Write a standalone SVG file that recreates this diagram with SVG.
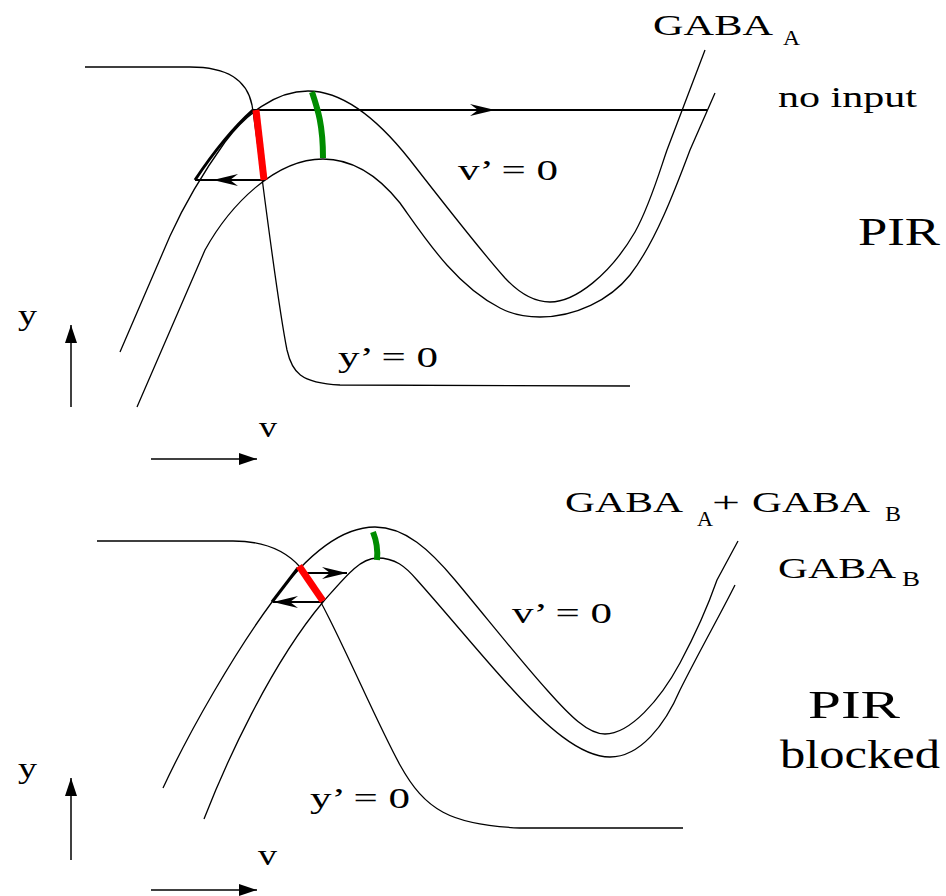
<svg xmlns="http://www.w3.org/2000/svg" width="946" height="896" viewBox="0 0 946 896">
<defs>
<marker id="barb" viewBox="-27 -8 29 16" refX="0" refY="0" markerWidth="29" markerHeight="16" markerUnits="userSpaceOnUse" orient="auto">
<path d="M0,0 L-25,-6 L-17,0 L-25,6 Z" fill="#000"/>
</marker>
<marker id="tri" viewBox="-20 -8 21 16" refX="0" refY="0" markerWidth="21" markerHeight="16" markerUnits="userSpaceOnUse" orient="auto">
<path d="M0,0 L-18,-6 L-18,6 Z" fill="#000"/>
</marker>
</defs>
<style>
.c{fill:none;stroke:#000;stroke-width:1.3}
.ar{fill:none;stroke:#000;stroke-width:2}
.ax{fill:none;stroke:#000;stroke-width:1.5}
.th{fill:none;stroke:#000;stroke-width:3}
.red{fill:none;stroke:#ff0000;stroke-width:7}
.grn{fill:none;stroke:#008c00;stroke-width:6}
text{font-family:"Liberation Serif","Times New Roman",serif;fill:#000;font-size:30px}
.sub{font-size:22px}
.big{font-size:40px}
</style>
<rect width="946" height="896" fill="#fff"/>

<g id="top-panel">
<g id="top-curves">
<path class="c" d="M85,67 L190,67 C228,67 247,80 252,105 C258,140 275,290 287,350 C292,372 300,383 340,385 L630,386"/>
<path class="c" d="M120,352 L170,236 C185,203 205,170 225,142 C245,115 275,91 308,91 C345,91 380,122 410,160 C445,205 480,250 505,278 C520,294 535,302 550,302 C575,302 610,275 635,232 C650,205 660,170 667,150 L705,50"/>
<path class="c" d="M137,407 L205,250 C230,205 275,159 323,159 C355,159 380,178 400,203 C425,238 455,285 500,308 C515,316 528,317 540,317 C575,317 610,300 630,275 C655,243 675,190 690,150 L715,93"/>
</g>
<g id="top-connectors">
<path class="ar" d="M253,110 L495,110" marker-end="url(#barb)"/>
<path class="ar" d="M495,110 L707,110"/>
<path class="ar" d="M264,180 L213,180" marker-end="url(#barb)"/>
<path class="ar" d="M213,180 L195,180"/>
<path class="th" d="M195,180 Q225,135 253,110"/>
<path class="ax" d="M71,407 L71,325" marker-end="url(#tri)"/>
<path class="ax" d="M151,459 L257,459" marker-end="url(#tri)"/>
</g>
<path class="red" d="M256,110 L264,180"/>
<path class="grn" d="M312,92 C318,110 323,125 323,158"/>
<g id="top-labels">
<text x="653" y="35" textLength="120" lengthAdjust="spacingAndGlyphs">GABA</text>
<text class="sub" x="783" y="45" textLength="17" lengthAdjust="spacingAndGlyphs">A</text>
<text x="778" y="107" textLength="139" lengthAdjust="spacingAndGlyphs">no input</text>
<text x="458" y="180" textLength="100" lengthAdjust="spacingAndGlyphs">v’ = 0</text>
<text class="big" x="858" y="245" textLength="82" lengthAdjust="spacingAndGlyphs">PIR</text>
<text x="18" y="325" textLength="19" lengthAdjust="spacingAndGlyphs">y</text>
<text x="338" y="367" textLength="100" lengthAdjust="spacingAndGlyphs">y’ = 0</text>
<text x="259" y="437" textLength="18" lengthAdjust="spacingAndGlyphs">v</text>
</g>
</g>

<g id="bottom-panel">
<g id="bottom-curves">
<path class="c" d="M97,541 L233,541 C262,541 285,550 300,567 C330,610 370,710 400,765 C425,810 450,825 520,828 L683,828"/>
<path class="c" d="M163,788 C190,730 235,652 272,602 C305,557 340,527 375,527 C405,527 430,550 455,580 C490,622 520,660 547,690 C570,716 588,734 605,734 C630,734 660,700 680,663 C695,635 710,600 717,580 L738,541"/>
<path class="c" d="M204,819 C225,765 270,665 323,602 C345,577 360,558 377,558 C395,558 405,566 417,580 C450,617 485,660 513,690 C545,725 580,757 610,757 C640,757 665,725 680,690 C700,650 720,615 735,585"/>
</g>
<g id="bottom-connectors">
<path class="ar" d="M303,573 L347,573" marker-end="url(#barb)"/>
<path class="ar" d="M323,602 L273,602" marker-end="url(#barb)"/>
<path class="th" d="M272,602 L298,568"/>
<path class="ax" d="M71,860 L71,778" marker-end="url(#tri)"/>
<path class="ax" d="M151,890 L257,890" marker-end="url(#tri)"/>
</g>
<path class="red" d="M299,566 L323,601"/>
<path class="grn" d="M373,532 C377,542 378,550 377,560"/>
<g id="bottom-labels">
<text x="565" y="512" textLength="118" lengthAdjust="spacingAndGlyphs">GABA</text>
<text class="sub" x="697" y="526" textLength="16" lengthAdjust="spacingAndGlyphs">A</text>
<text x="712" y="512" textLength="28" lengthAdjust="spacingAndGlyphs">+</text>
<text x="752" y="512" textLength="118" lengthAdjust="spacingAndGlyphs">GABA</text>
<text class="sub" x="885" y="521" textLength="16" lengthAdjust="spacingAndGlyphs">B</text>
<text x="778" y="578" textLength="118" lengthAdjust="spacingAndGlyphs">GABA</text>
<text class="sub" x="902" y="586" textLength="18" lengthAdjust="spacingAndGlyphs">B</text>
<text x="512" y="623" textLength="100" lengthAdjust="spacingAndGlyphs">v’ = 0</text>
<text class="big" x="808" y="718" textLength="92" lengthAdjust="spacingAndGlyphs">PIR</text>
<text class="big" x="780" y="768" textLength="160" lengthAdjust="spacingAndGlyphs">blocked</text>
<text x="18" y="778" textLength="19" lengthAdjust="spacingAndGlyphs">y</text>
<text x="310" y="808" textLength="100" lengthAdjust="spacingAndGlyphs">y’ = 0</text>
<text x="258" y="865" textLength="19" lengthAdjust="spacingAndGlyphs">v</text>
</g>
</g>
</svg>
